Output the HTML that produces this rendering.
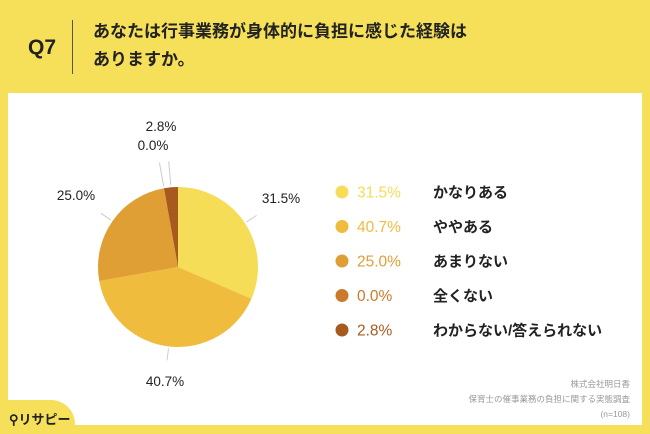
<!DOCTYPE html>
<html><head><meta charset="utf-8">
<style>
body{margin:0;width:650px;height:434px;background:#f6e05a;font-family:"Liberation Sans","Noto Sans CJK JP",sans-serif;position:relative;overflow:hidden}
#panel{position:absolute;left:8px;top:93px;width:634px;height:332px;background:#fff}
.q{position:absolute;left:28px;top:36px;font-size:21px;font-weight:bold;color:#222}
.div{position:absolute;left:72px;top:20px;width:1px;height:54px;background:#555}
.title{position:absolute;left:93px;top:18px;font-size:17px;font-weight:bold;color:#222;line-height:28px}
.foot{position:absolute;right:20px;top:377px;font-size:8.5px;color:#999;text-align:right;line-height:15px}
#logo{position:absolute;left:0;top:400px;width:75px;height:34px;background:#f6e05a;border-top-right-radius:24px}
</style></head><body>
<div class="q">Q7</div>
<div class="div"></div>
<div class="title">あなたは行事業務が身体的に負担に感じた経験は<br>ありますか。</div>
<div id="panel"></div>
<svg id="chart" width="650" height="434" style="position:absolute;left:0;top:0"></svg>
<div class="foot">株式会社明日香<br>保育士の催事業務の負担に関する実態調査<br>(n=108)</div>
<div id="logo"><span style="position:absolute;left:9px;top:9px;font-size:13px;font-weight:bold;color:#222;white-space:nowrap">⚲リサピー</span></div>
<script>
const categories=["かなりある","ややある","あまりない","全くない","わからない/答えられない"];
const values=[31.5,40.7,25.0,0.0,2.8];
const labels=["31.5%","40.7%","25.0%","0.0%","2.8%"];
const colors=["#f5dd58","#efbc3e","#df9f35","#c97a2a","#a85a1e"];
const svg=document.getElementById('chart');
const NS="http://www.w3.org/2000/svg";
const cx=178,cy=267,r=80;
const total=values.reduce((a,b)=>a+b,0);
function pt(a,rr){return [cx+rr*Math.sin(a),cy-rr*Math.cos(a)];}
let acc=0;
const labelPos=[[281,203],[165,386],[76,200],[153,150],[161,131]];
values.forEach((v,i)=>{
  const a0=acc/total*2*Math.PI;acc+=v;const a1=acc/total*2*Math.PI;
  if(v>0){
    const p0=pt(a0,r),p1=pt(a1,r);
    const path=document.createElementNS(NS,'path');
    path.setAttribute('d',`M${cx},${cy}L${p0[0]},${p0[1]}A${r},${r} 0 ${a1-a0>Math.PI?1:0} 1 ${p1[0]},${p1[1]}Z`);
    path.setAttribute('fill',colors[i]);
    
    
    svg.appendChild(path);
  }
  const am=(a0+a1)/2;
  const q0=pt(am,r+2),q1=pt(am,r+14+(i>=3?12:0));
  const ln=document.createElementNS(NS,'line');
  ln.setAttribute('x1',q0[0]);ln.setAttribute('y1',q0[1]);ln.setAttribute('x2',q1[0]);ln.setAttribute('y2',q1[1]);
  ln.setAttribute('stroke','#ccc');
  
  
  svg.appendChild(ln);
  const t=document.createElementNS(NS,'text');
  t.setAttribute('x',labelPos[i][0]);t.setAttribute('y',labelPos[i][1]);
  t.setAttribute('text-anchor','middle');t.setAttribute('font-size','13.5');t.setAttribute('fill','#222');
  t.textContent=labels[i];
  
  
  svg.appendChild(t);
  const y=192+i*34.5;
  const c=document.createElementNS(NS,'circle');
  c.setAttribute('cx',342);c.setAttribute('cy',y);c.setAttribute('r',6.5);c.setAttribute('fill',colors[i]);
  
  
  svg.appendChild(c);
  const p=document.createElementNS(NS,'text');
  p.setAttribute('x',357);p.setAttribute('y',y+5.5);p.setAttribute('font-size','15.5');p.setAttribute('fill',colors[i]);
  p.textContent=labels[i];
  
  
  svg.appendChild(p);
  const n=document.createElementNS(NS,'text');
  n.setAttribute('x',433);n.setAttribute('y',y+5.5);n.setAttribute('font-size','15');n.setAttribute('font-weight','bold');n.setAttribute('fill','#222');
  n.textContent=categories[i];
  
  
  svg.appendChild(n);
});
</script>
</body></html>
